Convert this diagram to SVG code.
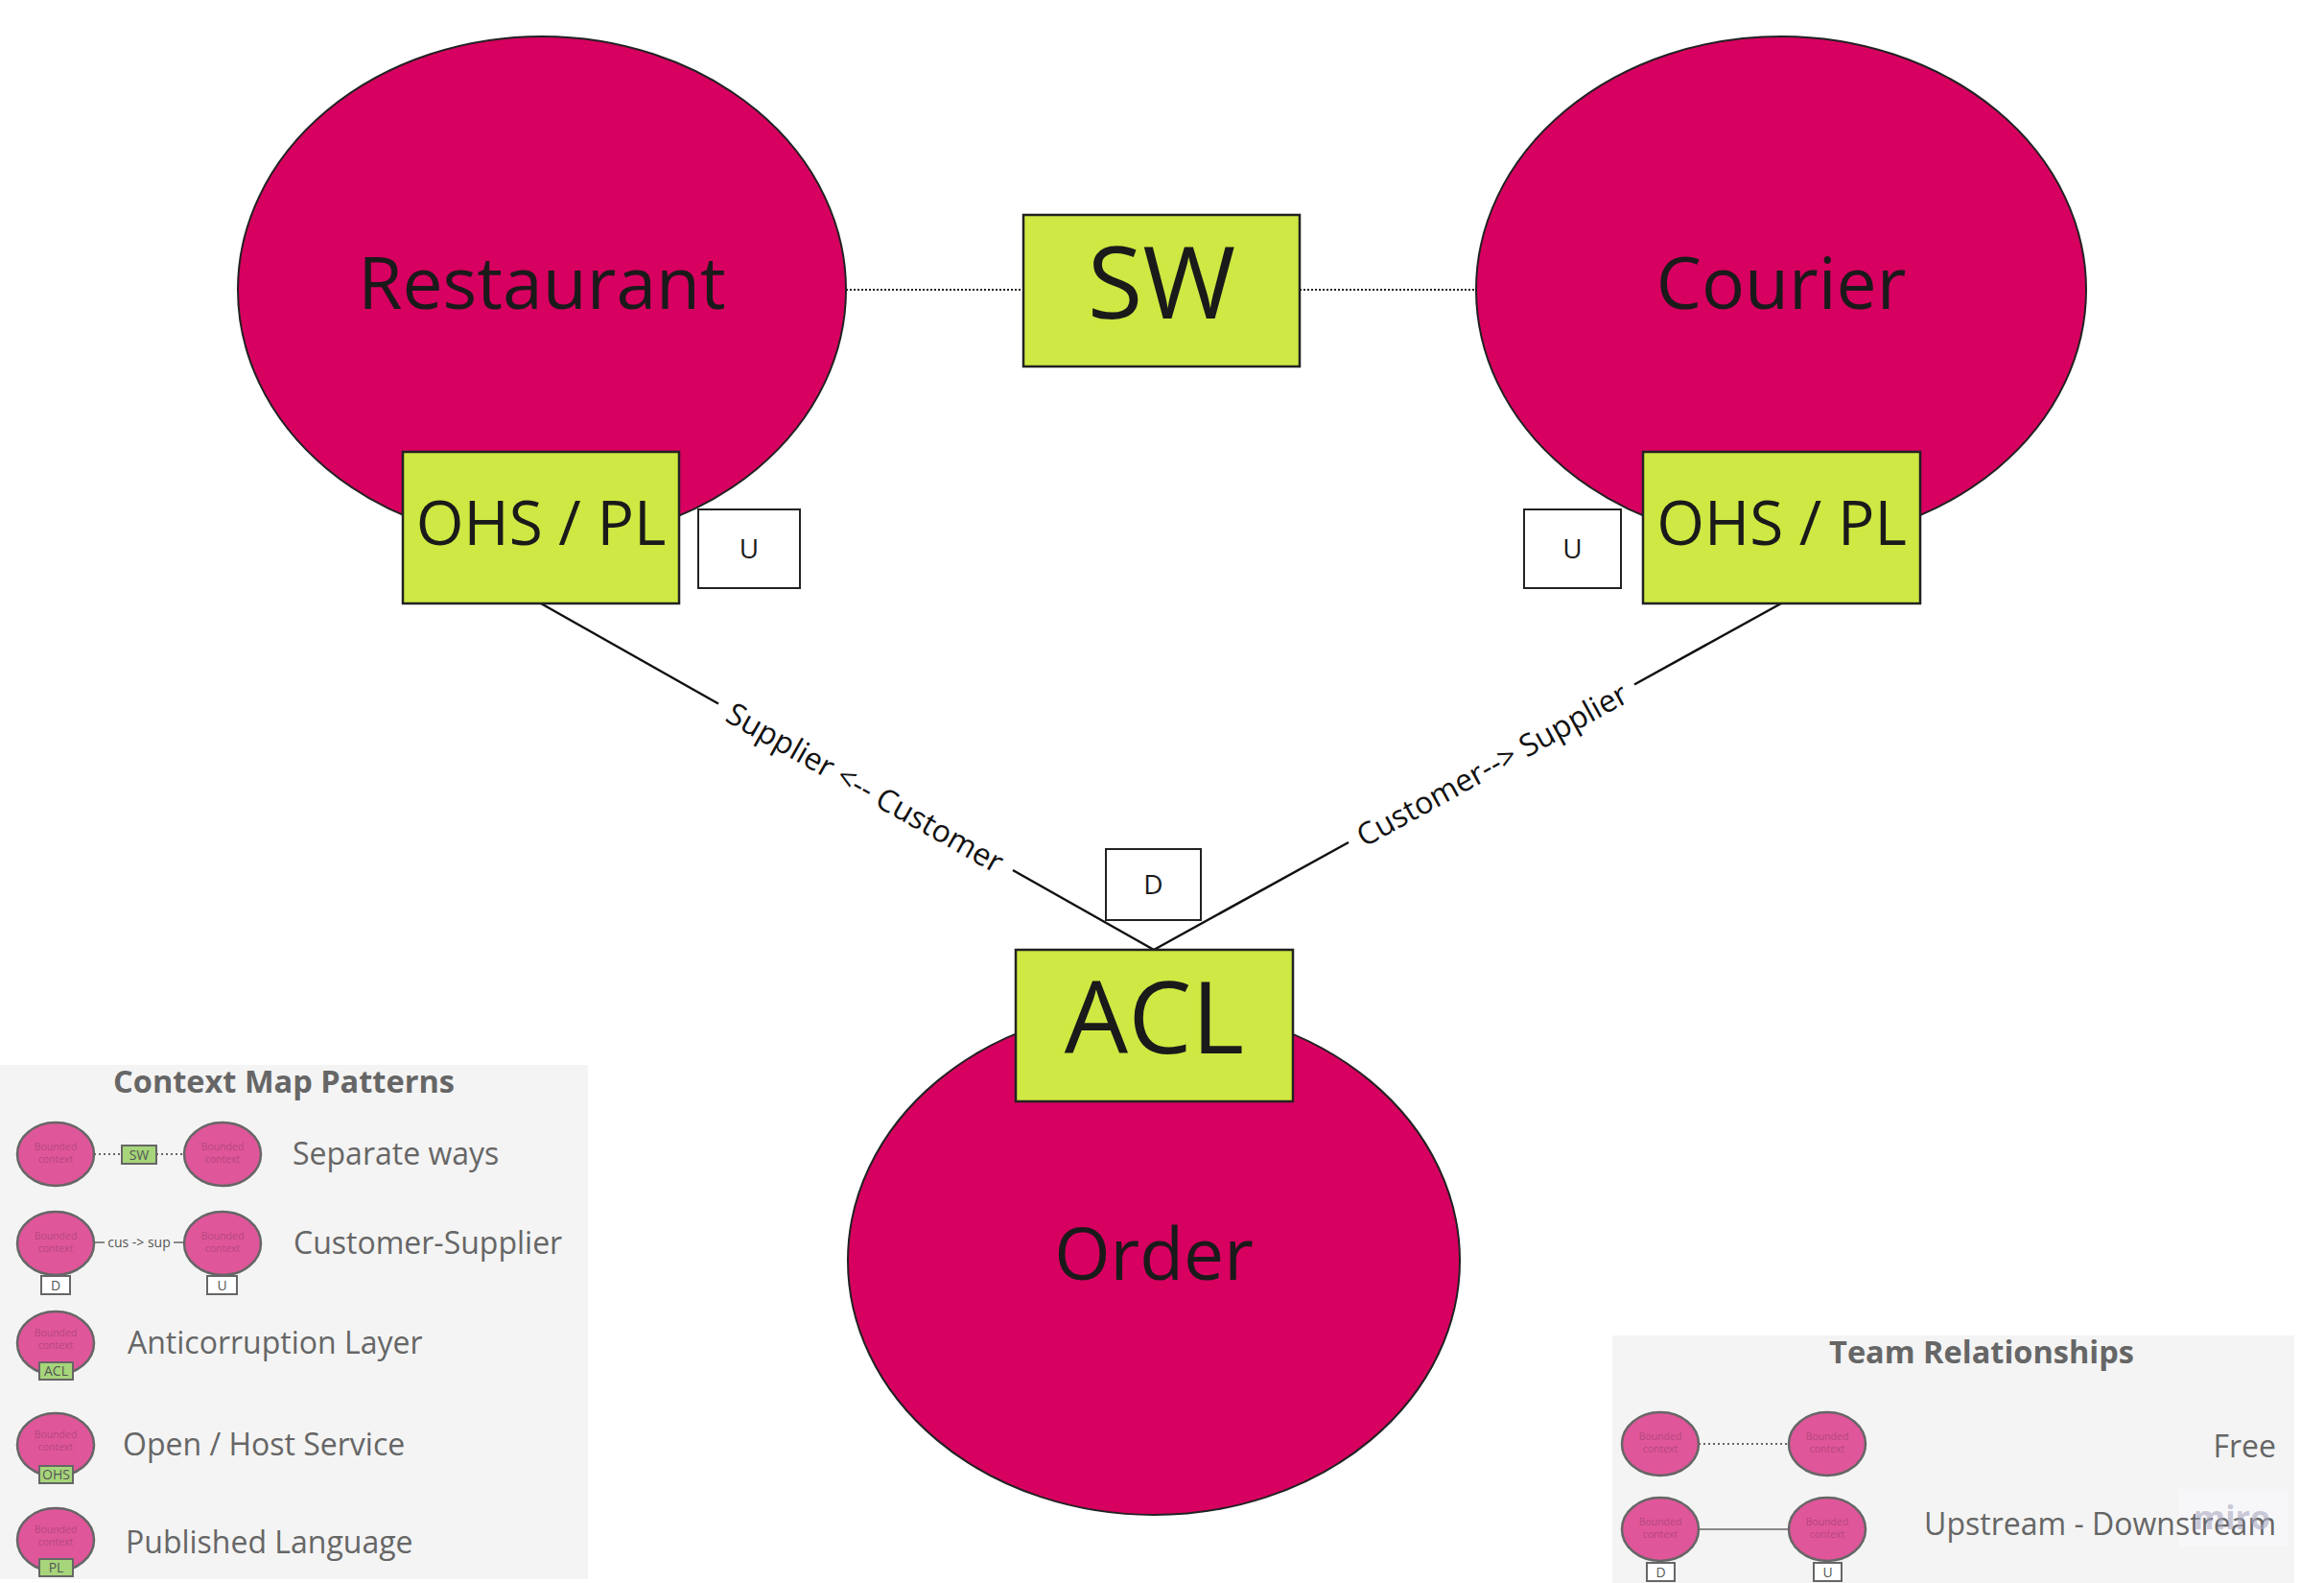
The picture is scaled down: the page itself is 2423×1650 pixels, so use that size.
<svg xmlns="http://www.w3.org/2000/svg" width="2423" height="1650" viewBox="0 0 2423 1650">
<defs>
<style>
.bc{fill:#d70060;stroke:#222;stroke-width:2}
.tag{fill:#cfe843;stroke:#222;stroke-width:2.5}
.ud{fill:#fff;stroke:#222;stroke-width:2}
.t{font-family:"Open Sans","Noto Sans","DejaVu Sans",sans-serif;fill:#1a1a1a;text-anchor:middle}
.line{stroke:#111;stroke-width:2.5;fill:none}
.dot{stroke:#222;stroke-width:2;stroke-dasharray:2 2;fill:none}
.lbl{font-family:"Open Sans","Noto Sans","DejaVu Sans",sans-serif;fill:#111;font-size:32px;text-anchor:middle;dominant-baseline:central}
.lg{fill:#f4f4f4}
.lgt{font-family:"Open Sans","Noto Sans","DejaVu Sans",sans-serif;fill:#666}
.lgh{font-family:"Open Sans","Noto Sans","DejaVu Sans",sans-serif;fill:#666;font-weight:bold;font-size:32.5px;text-anchor:middle}
.mc{fill:#e0569a;stroke:#666;stroke-width:2.5}
.mct{font-family:"Open Sans","Noto Sans","DejaVu Sans",sans-serif;fill:#b4487e;font-size:10.5px;text-anchor:middle}
.mt{fill:#a6d57a;stroke:#666;stroke-width:2}
.mb{fill:#fff;stroke:#666;stroke-width:2}
.mtt{font-family:"Open Sans","Noto Sans","DejaVu Sans",sans-serif;fill:#555;font-size:14px;text-anchor:middle}
.ml{stroke:#666;stroke-width:1.5;fill:none}
.mld{stroke:#666;stroke-width:2;stroke-dasharray:2 3;fill:none}
</style>
</defs>
<rect x="0" y="0" width="2423" height="1650" fill="#ffffff"/>

<!-- legends -->
<g id="legend-context-map">
<rect class="lg" x="0" y="1110" width="613" height="536"/>
<text class="lgh" x="296" y="1139">Context Map Patterns</text>
<line class="mld" x1="98" y1="1203" x2="127" y2="1203"/>
<line class="mld" x1="163" y1="1203" x2="192" y2="1203"/>
<ellipse class="mc" cx="58" cy="1203" rx="40" ry="33"/>
<text class="mct" x="58" y="1199">Bounded</text><text class="mct" x="58" y="1212">context</text>
<ellipse class="mc" cx="232" cy="1203" rx="40" ry="33"/>
<text class="mct" x="232" y="1199">Bounded</text><text class="mct" x="232" y="1212">context</text>
<rect class="mt" x="127" y="1194" width="36" height="19"/>
<text class="mtt" x="145" y="1209" font-size="15">SW</text>
<text class="lgt" x="305" y="1214" font-size="32">Separate ways</text>

<line class="ml" x1="98" y1="1295" x2="109" y2="1295"/>
<line class="ml" x1="181" y1="1295" x2="192" y2="1295"/>
<text class="mtt" x="145" y="1300">cus -&gt; sup</text>
<ellipse class="mc" cx="58" cy="1296" rx="40" ry="33"/>
<text class="mct" x="58" y="1292">Bounded</text><text class="mct" x="58" y="1305">context</text>
<ellipse class="mc" cx="232" cy="1296" rx="40" ry="33"/>
<text class="mct" x="232" y="1292">Bounded</text><text class="mct" x="232" y="1305">context</text>
<rect class="mb" x="43" y="1330" width="30" height="19"/>
<text class="mtt" x="58" y="1345">D</text>
<rect class="mb" x="216" y="1330" width="31" height="19"/>
<text class="mtt" x="231.5" y="1345">U</text>
<text class="lgt" x="306" y="1307" font-size="32">Customer-Supplier</text>

<ellipse class="mc" cx="58" cy="1400" rx="40" ry="33"/>
<text class="mct" x="58" y="1393">Bounded</text><text class="mct" x="58" y="1406">context</text>
<rect class="mt" x="41" y="1420" width="35" height="18"/>
<text class="mtt" x="58.5" y="1434">ACL</text>
<text class="lgt" x="133" y="1411" font-size="32">Anticorruption Layer</text>

<ellipse class="mc" cx="58" cy="1506" rx="40" ry="33"/>
<text class="mct" x="58" y="1499">Bounded</text><text class="mct" x="58" y="1512">context</text>
<rect class="mt" x="41" y="1528" width="35" height="18"/>
<text class="mtt" x="58.5" y="1542">OHS</text>
<text class="lgt" x="128" y="1517" font-size="32">Open / Host Service</text>

<ellipse class="mc" cx="58" cy="1605" rx="40" ry="33"/>
<text class="mct" x="58" y="1598">Bounded</text><text class="mct" x="58" y="1611">context</text>
<rect class="mt" x="41" y="1625" width="35" height="18"/>
<text class="mtt" x="58.5" y="1639">PL</text>
<text class="lgt" x="131" y="1619" font-size="32">Published Language</text>
</g>

<g id="legend-team">
<rect class="lg" x="1681" y="1392" width="711" height="258"/>
<text class="lgh" x="2066" y="1421">Team Relationships</text>
<line class="mld" x1="1771" y1="1505" x2="1865" y2="1505"/>
<ellipse class="mc" cx="1731" cy="1505" rx="40" ry="33"/>
<text class="mct" x="1731" y="1501">Bounded</text><text class="mct" x="1731" y="1514">context</text>
<ellipse class="mc" cx="1905" cy="1505" rx="40" ry="33"/>
<text class="mct" x="1905" y="1501">Bounded</text><text class="mct" x="1905" y="1514">context</text>
<text class="lgt" x="2373" y="1519" font-size="32" text-anchor="end">Free</text>
<line class="ml" x1="1771" y1="1594" x2="1865" y2="1594"/>
<ellipse class="mc" cx="1731" cy="1594" rx="40" ry="33"/>
<text class="mct" x="1731" y="1590">Bounded</text><text class="mct" x="1731" y="1603">context</text>
<ellipse class="mc" cx="1905" cy="1594" rx="40" ry="33"/>
<text class="mct" x="1905" y="1590">Bounded</text><text class="mct" x="1905" y="1603">context</text>
<rect class="mb" x="1717" y="1629" width="29" height="19"/>
<text class="mtt" x="1731.5" y="1644">D</text>
<rect class="mb" x="1891" y="1629" width="29" height="19"/>
<text class="mtt" x="1905.5" y="1644">U</text>
<rect x="2272" y="1552" width="113" height="60" fill="#f7f7f9"/>
<text class="lgt" x="2373" y="1600" font-size="32" text-anchor="end">Upstream - Downstream</text>
<text x="2327" y="1594" font-family="Open Sans, Noto Sans, sans-serif" font-weight="bold" font-size="34" fill="#a8a8c0" fill-opacity="0.6" text-anchor="middle">miro</text>
</g>

<!-- connectors -->
<g id="connectors">
<line class="dot" x1="882" y1="302" x2="1067" y2="302"/>
<line class="dot" x1="1355" y1="302" x2="1538" y2="302"/>
<line class="line" x1="564" y1="629" x2="749" y2="733.5"/>
<line class="line" x1="1056" y1="907" x2="1203" y2="990"/>
<text class="lbl" transform="translate(902.5,820) rotate(29.46)">Supplier &lt;-- Customer</text>
<line class="line" x1="1857" y1="629" x2="1704" y2="713.5"/>
<line class="line" x1="1406" y1="878" x2="1203" y2="990"/>
<text class="lbl" transform="translate(1555,796) rotate(-28.9)">Customer--&gt; Supplier</text>
</g>

<!-- nodes -->
<g id="restaurant">
<ellipse class="bc" cx="565" cy="302" rx="317" ry="264"/>
<text class="t" x="565" y="322" font-size="75">Restaurant</text>
</g>
<g id="restaurant-ohs-pl">
<rect class="tag" x="420" y="471" width="288" height="158"/>
<text class="t" x="564" y="568" font-size="64">OHS / PL</text>
</g>
<g id="restaurant-u">
<rect class="ud" x="728" y="531" width="106" height="82"/>
<text class="t" x="781" y="582" font-size="28">U</text>
</g>
<g id="sw">
<rect class="tag" x="1067" y="224" width="288" height="158"/>
<text class="t" x="1211" y="332" font-size="105">SW</text>
</g>
<g id="courier">
<ellipse class="bc" cx="1857" cy="302" rx="318" ry="264"/>
<text class="t" x="1857" y="322" font-size="75">Courier</text>
</g>
<g id="courier-ohs-pl">
<rect class="tag" x="1713" y="471" width="289" height="158"/>
<text class="t" x="1857.5" y="568" font-size="64">OHS / PL</text>
</g>
<g id="courier-u">
<rect class="ud" x="1589" y="531" width="101" height="82"/>
<text class="t" x="1639.5" y="582" font-size="28">U</text>
</g>
<g id="order">
<ellipse class="bc" cx="1203" cy="1314" rx="319" ry="265"/>
<text class="t" x="1203" y="1334" font-size="75">Order</text>
</g>
<g id="order-acl">
<rect class="tag" x="1059" y="990" width="289" height="158"/>
<text class="t" x="1203.5" y="1098" font-size="105">ACL</text>
</g>
<g id="order-d">
<rect class="ud" x="1153" y="885" width="99" height="74"/>
<text class="t" x="1202.5" y="932" font-size="28">D</text>
</g>
</svg>
